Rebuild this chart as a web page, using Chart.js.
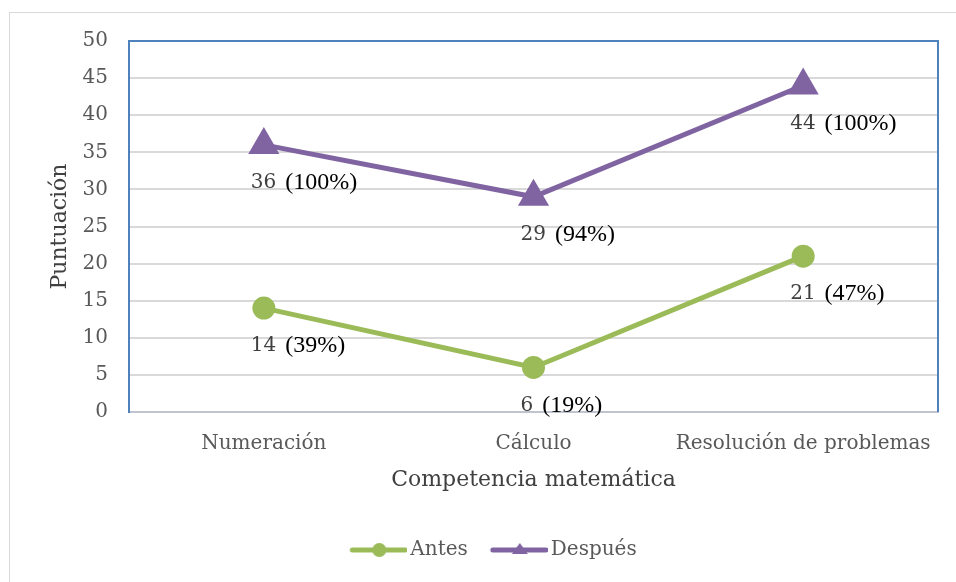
<!DOCTYPE html>
<html>
<head>
<meta charset="utf-8">
<script src="https://cdn.jsdelivr.net/npm/chart.js@4"></script>
<style>
  body { margin: 0; background: #fff; overflow: hidden; }
  #wrap { position: relative; width: 956px; height: 582px; }
  #frame { position: absolute; left: 9px; top: 12px; width: 980px; height: 620px; border: 1px solid #d9d9d9; }
  #chart { position: absolute; left: 0; top: 0; }
</style>
</head>
<body>
<div id="wrap">
  <div id="frame"></div>
  <canvas id="chart" width="956" height="582"></canvas>
</div>
<script>
// competencia matemática - antes / después

const categories = ["Numeración", "Cálculo", "Resolución de problemas"];
const antes = [14, 6, 21];
const despues = [36, 29, 44];
const antesPct = ["(39%)", "(19%)", "(47%)"];
const despuesPct = ["(100%)", "(94%)", "(100%)"];
const yTicks = [0, 5, 10, 15, 20, 25, 30, 35, 40, 45, 50];

const GREEN = "#9BBB59";
const PURPLE = "#8064A2";
const SERIF = "'DejaVu Serif', serif";

// legend swatch: line with marker, blank strip on the left so it sits near the text
function swatch(color, shape) {
  const c = document.createElement("canvas");
  c.width = 64; c.height = 20;
  const g = c.getContext("2d");
  g.strokeStyle = color; g.fillStyle = color;
  g.lineWidth = 5; g.lineCap = "round";
  g.beginPath(); g.moveTo(9, 10); g.lineTo(62, 10); g.stroke();
  g.beginPath();
  if (shape === "circle") {
    g.arc(36, 10, 7, 0, Math.PI * 2);
  } else {
    g.moveTo(36, 3); g.lineTo(44, 14); g.lineTo(28, 14); g.closePath();
  }
  g.fill();
  return c;
}

const labelPlugin = {
  id: "valueLabels",
  afterDatasetsDraw(chart) {
    const ctx = chart.ctx;
    const pcts = [antesPct, despuesPct];
    chart.data.datasets.forEach((ds, i) => {
      const meta = chart.getDatasetMeta(i);
      meta.data.forEach((pt, j) => {
        const x = pt.x - 13, y = pt.y + 38;
        ctx.save();
        ctx.textBaseline = "middle";
        ctx.textAlign = "left";
        ctx.font = "20px " + SERIF;
        ctx.fillStyle = "#404040";
        const num = String(ds.data[j]);
        ctx.fillText(num, x, y);
        const w = ctx.measureText(num).width;
        ctx.font = "24px 'Liberation Serif', serif";
        ctx.fillStyle = "#000";
        ctx.fillText(pcts[i][j], x + w + 9, y);
        ctx.restore();
      });
    });
  }
};

const framePlugin = {
  id: "plotFrame",
  beforeDatasetsDraw(chart) {
    const { ctx, chartArea: a } = chart;
    ctx.save();
    ctx.strokeStyle = "#4F81BD";
    ctx.lineWidth = 2;
    ctx.beginPath();
    ctx.moveTo(a.left, a.bottom);
    ctx.lineTo(a.left, a.top);
    ctx.lineTo(a.right, a.top);
    ctx.lineTo(a.right, a.bottom);
    ctx.stroke();
    ctx.restore();
  }
};

new Chart(document.getElementById("chart"), {
  type: "line",
  data: {
    labels: categories,
    datasets: [
      {
        label: "Antes",
        data: antes,
        borderColor: GREEN,
        backgroundColor: GREEN,
        borderWidth: 5,
        pointStyle: "circle",
        pointRadius: 9,
        pointHoverRadius: 9,
        tension: 0
      },
      {
        label: "Después",
        data: despues,
        borderColor: PURPLE,
        backgroundColor: PURPLE,
        borderWidth: 5,
        pointStyle: "triangle",
        pointRadius: 13,
        pointHoverRadius: 13,
        tension: 0
      }
    ]
  },
  options: {
    responsive: false,
    animation: false,
    layout: { padding: { left: 47, top: 41, right: 16, bottom: 12 } },
    scales: {
      x: {
        offset: true,
        afterFit: s => { s.height = 105; },
        grid: { display: false, drawTicks: false },
        border: { color: "#BFC5D0", width: 2 },
        ticks: { color: "#595959", font: { family: SERIF, size: 20 }, padding: 20, maxRotation: 0 },
        title: {
          display: true,
          text: "Competencia matemática",
          color: "#404040",
          font: { family: SERIF, size: 22 },
          padding: { top: 0, bottom: 24 }
        }
      },
      y: {
        min: 0,
        max: 50,
        afterFit: s => { s.width = 82; },
        afterBuildTicks: s => { s.ticks = yTicks.map(v => ({ value: v })); },
        grid: { color: "#D9D9D9", lineWidth: 2, drawTicks: false },
        border: { color: "#4F81BD", width: 2 },
        ticks: { color: "#595959", font: { family: SERIF, size: 20 }, padding: 21 },
        title: {
          display: true,
          text: "Puntuación",
          color: "#404040",
          font: { family: SERIF, size: 22 },
          padding: { top: 0, bottom: 0 }
        }
      }
    },
    plugins: {
      legend: {
        position: "bottom",
        labels: {
          usePointStyle: true,
          pointStyleWidth: 50,
          color: "#595959",
          font: { family: SERIF, size: 20 },
          padding: 23,
          generateLabels: chart => chart.data.datasets.map((ds, i) => ({
            text: ds.label,
            pointStyle: swatch(ds.borderColor, i === 0 ? "circle" : "triangle"),
            fillStyle: ds.borderColor,
            strokeStyle: ds.borderColor,
            fontColor: "#595959",
            lineWidth: 0,
            datasetIndex: i
          }))
        }
      },
      tooltip: { enabled: false }
    }
  },
  plugins: [framePlugin, labelPlugin]
});
</script>
</body>
</html>
